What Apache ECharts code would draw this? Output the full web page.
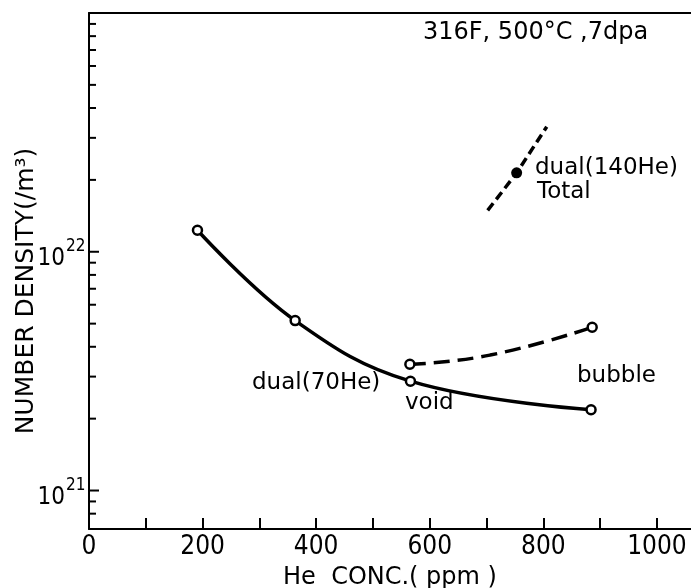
<!DOCTYPE html>
<html><head><meta charset="utf-8">
<script src="https://cdn.jsdelivr.net/npm/echarts@6/dist/echarts.min.js"></script>
<style>html,body{margin:0;padding:0;background:#fff}#c{width:691px;height:588px}</style>
</head><body><div id="c"></div>
<script>
// ---- data ----
const solidX = [191, 363, 566, 884];                 // dual(70He) / void curve (open circles)
const solidY = [1.23e22, 5.15e21, 2.87e21, 2.18e21];
const bubbleMarkX = [565, 886];                      // bubble (open circles)
const bubbleMarkY = [3.38e21, 4.83e21];
const bubbleTraceX = [565, 706, 886];                // dashed bubble curve as drawn
const bubbleTraceY = [3.38e21, 3.69e21, 4.83e21];
const totalLineX = [702, 753, 806];                  // dual(140He) Total dashed line
const totalLineY = [1.49e22, 2.14e22, 3.34e22];
const totalMarkX = [753];
const totalMarkY = [2.14e22];
const xLabelValues = [0, 200, 400, 600, 800, 1000];
const yMinorTicks = [8e20, 9e20, 2e21, 3e21, 4e21, 5e21, 6e21, 7e21, 8e21, 9e21,
                     2e22, 3e22, 4e22, 5e22, 6e22, 7e22, 8e22, 9e22];
const yMajorTicks = [1e21, 1e22];
const yMajorExponents = ['21', '22'];

const TXT = "'DejaVu Sans', sans-serif";
const NUM = "'Liberation Sans Narrow', 'DejaVu Sans Condensed', sans-serif";

const chart = echarts.init(document.getElementById('c'), null, {renderer: 'canvas'});
const zip = (xs, ys) => xs.map((x, i) => [x, ys[i]]);

const option = {
  animation: false,
  backgroundColor: '#fff',
  grid: {left: 89, right: 0, top: 13, bottom: 59, containLabel: false, outerBoundsMode: 'none'},
  xAxis: [{
    type: 'value', min: 0, max: 1060, interval: 100,
    axisLine: {show: true, lineStyle: {color: '#000', width: 2}},
    axisTick: {show: true, inside: true, length: 11, lineStyle: {color: '#000', width: 2}},
    splitLine: {show: false},
    axisLabel: {
      show: true, margin: 5, color: '#000', fontSize: 26, fontFamily: NUM,
      showMaxLabel: false,
      formatter: v => xLabelValues.includes(v) ? String(v) : ''
    },
    name: 'He  CONC.( ppm )', nameLocation: 'middle', nameGap: 37,
    nameTextStyle: {color: '#000', fontSize: 24, fontFamily: TXT}
  }, {
    type: 'value', min: 0, max: 1060, position: 'top',
    axisLine: {show: true, onZero: false, lineStyle: {color: '#000', width: 2}},
    axisTick: {show: false}, axisLabel: {show: false}, splitLine: {show: false}
  }],
  yAxis: [{
    type: 'log', logBase: 10, min: 6.9e20, max: 1e23,
    axisLine: {show: true, lineStyle: {color: '#000', width: 2}},
    axisTick: {show: false}, axisLabel: {show: false}, splitLine: {show: false},
    minorTick: {show: false}
  }],
  graphic: [
    {type: 'text', x: 26, y: 291, rotation: Math.PI / 2,
     style: {text: 'NUMBER DENSITY(/m³)', font: '25px ' + TXT, fill: '#000',
             align: 'center', verticalAlign: 'middle'}},
    {type: 'text', x: 423, y: 33,
     style: {text: '316F, 500°C ,7dpa', font: '24px ' + TXT, fill: '#000', align: 'left', verticalAlign: 'middle'}},
    {type: 'text', x: 535, y: 168,
     style: {text: 'dual(140He)', font: '23px ' + TXT, fill: '#000', align: 'left', verticalAlign: 'middle'}},
    {type: 'text', x: 537, y: 192,
     style: {text: 'Total', font: '23px ' + TXT, fill: '#000', align: 'left', verticalAlign: 'middle'}},
    {type: 'text', x: 252, y: 383,
     style: {text: 'dual(70He)', font: '23px ' + TXT, fill: '#000', align: 'left', verticalAlign: 'middle'}},
    {type: 'text', x: 405, y: 403,
     style: {text: 'void', font: '23px ' + TXT, fill: '#000', align: 'left', verticalAlign: 'middle'}},
    {type: 'text', x: 577, y: 376,
     style: {text: 'bubble', font: '23px ' + TXT, fill: '#000', align: 'left', verticalAlign: 'middle'}}
  ],
  series: [
    { // y minor ticks
      type: 'custom', coordinateSystem: 'cartesian2d', silent: true, clip: false,
      data: yMinorTicks.map(v => [0, v]),
      renderItem: (params, api) => {
        const p = api.coord([api.value(0), api.value(1)]);
        return {type: 'line', shape: {x1: p[0], y1: p[1], x2: p[0] + 7, y2: p[1]},
                style: {stroke: '#000', lineWidth: 2}};
      }
    },
    { // y major ticks with labels 10^n
      type: 'custom', coordinateSystem: 'cartesian2d', silent: true, clip: false,
      data: yMajorTicks.map((v, i) => [0, v, i]),
      renderItem: (params, api) => {
        const p = api.coord([api.value(0), api.value(1)]);
        const exp = yMajorExponents[api.value(2)];
        return {type: 'group', children: [
          {type: 'line', shape: {x1: p[0], y1: p[1], x2: p[0] + 10, y2: p[1]},
           style: {stroke: '#000', lineWidth: 2}},
          {type: 'text', x: p[0] - 24, y: p[1] + 7,
           style: {text: '10', font: '24px ' + NUM, fill: '#000', align: 'right', verticalAlign: 'middle'}},
          {type: 'text', x: p[0] - 23, y: p[1] - 5,
           style: {text: exp, font: '17px ' + NUM, fill: '#000', align: 'left', verticalAlign: 'middle'}}
        ]};
      }
    },
    {
      name: 'void', type: 'line', data: zip(solidX, solidY), smooth: 0.4,
      showSymbol: false, symbol: 'none', lineStyle: {color: '#000', width: 3.5}, z: 3
    },
    {
      name: 'bubble', type: 'line', data: zip(bubbleTraceX, bubbleTraceY), smooth: 0.5,
      showSymbol: false, symbol: 'none',
      lineStyle: {color: '#000', width: 3.5, type: [16, 8]}, z: 3
    },
    {
      name: 'Total', type: 'line', data: zip(totalLineX, totalLineY),
      showSymbol: false, symbol: 'none',
      lineStyle: {color: '#000', width: 3.5, type: [9, 5]}, z: 3
    },
    {
      type: 'scatter', data: zip(solidX, solidY).concat(zip(bubbleMarkX, bubbleMarkY)),
      symbol: 'circle', symbolSize: 9,
      itemStyle: {color: '#fff', borderColor: '#000', borderWidth: 2.5, opacity: 1}, z: 5
    },
    {
      type: 'scatter', data: zip(totalMarkX, totalMarkY),
      symbol: 'circle', symbolSize: 11, itemStyle: {color: '#000', opacity: 1}, z: 5
    }
  ]
};
chart.setOption(option);
</script>
</body></html>
